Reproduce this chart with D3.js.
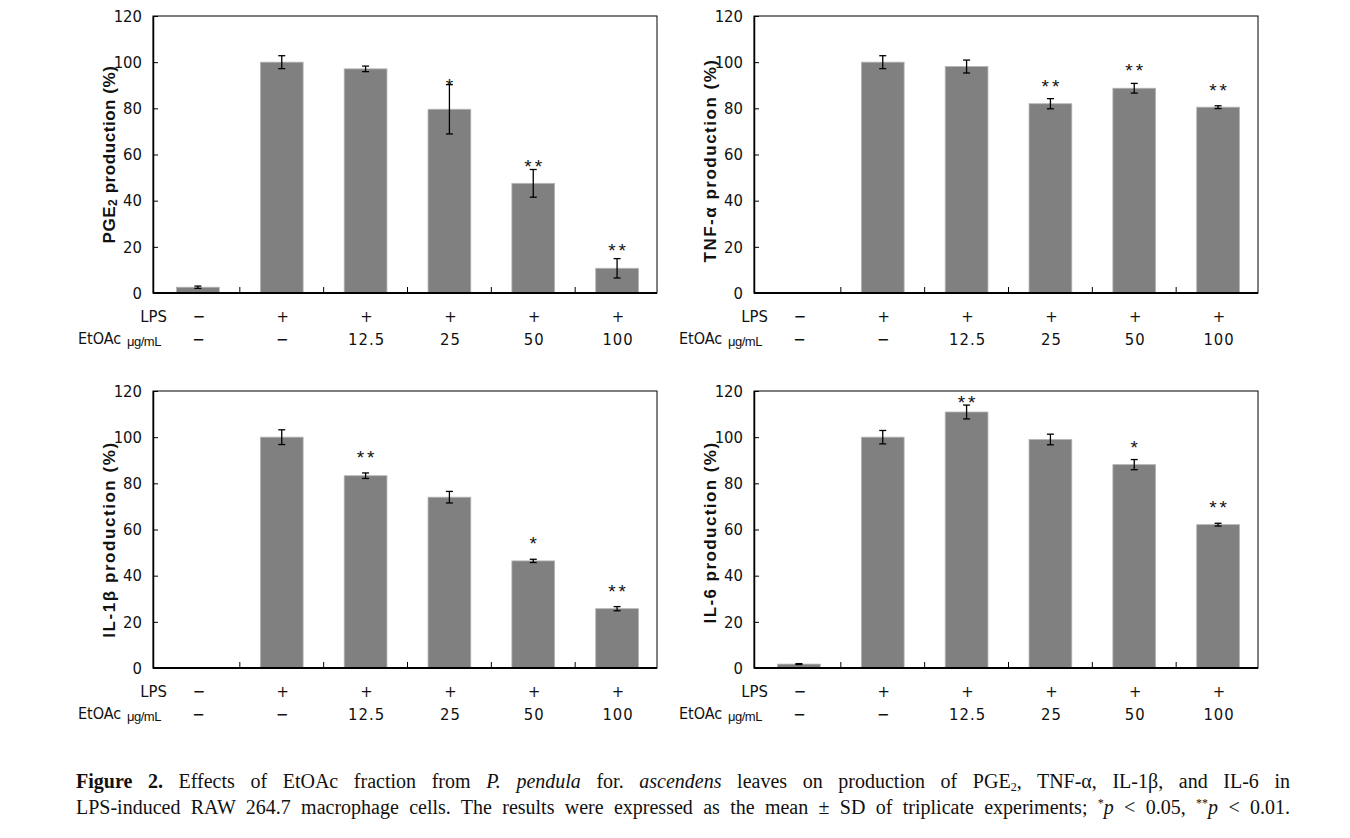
<!DOCTYPE html>
<html>
<head>
<meta charset="utf-8">
<script src="https://cdn.jsdelivr.net/npm/d3@7"></script>
<style>
  html, body { margin: 0; padding: 0; background: #fff; }
  #wrap { position: relative; width: 1350px; height: 838px; overflow: hidden; }
  svg { position: absolute; left: 0; top: 0; }
  .cap { position: absolute; left: 76px; width: 1214px; font-family: "Liberation Serif", "Times New Roman", serif;
         font-size: 20px; line-height: 23px; color: #111; text-align: justify; text-align-last: justify; }
  .cap sup { font-size: 12px; vertical-align: 7px; line-height: 0; }
  .cap sub { font-size: 12px; vertical-align: -3px; line-height: 0; }
</style>
</head>
<body>
<div id="wrap"></div>
<script>
// ---------------- data ----------------
const lpsLabels   = ["\u2212", "+", "+", "+", "+", "+"];
const etoacLabels = ["\u2212", "\u2212", "12.5", "25", "50", "100"];
const yTicks = [0, 20, 40, 60, 80, 100, 120];

const pgeValues   = [2.5, 100, 97.1, 79.6, 47.5, 10.7];
const pgeErrors   = [0.5, 2.8, 1.2, 10.7, 6.0, 4.2];
const pgeSig      = ["", "", "", "*", "**", "**"];
const pgeSigLevel = [null, null, null, 91.6, 56.3, 19.8];

const tnfValues   = [0, 100, 98.1, 82.0, 88.7, 80.5];
const tnfErrors   = [0, 2.8, 2.8, 2.2, 2.1, 0.6];
const tnfSig      = ["", "", "", "**", "**", "**"];
const tnfSigLevel = [null, null, null, 91.1, 97.8, 89.1];

const il1bValues   = [0, 100, 83.3, 74.0, 46.4, 25.7];
const il1bErrors   = [0, 3.2, 1.2, 2.5, 0.7, 0.9];
const il1bSig      = ["", "", "**", "", "*", "**"];
const il1bSigLevel = [null, null, 92.5, null, 55.6, 34.8];

const il6Values   = [1.7, 100, 110.9, 99.0, 88.1, 62.1];
const il6Errors   = [0.2, 2.9, 3.0, 2.3, 2.2, 0.6];
const il6Sig      = ["", "", "**", "", "*", "**"];
const il6SigLevel = [null, null, 116.5, null, 97.2, 71.1];

// ---------------- layout ----------------
const W = 1350, H = 838;
const PW = 504, PH = 277;
const panels = [
  { label: ["PGE", "2", " production (%)"], values: pgeValues, errors: pgeErrors, sig: pgeSig, sigLevel: pgeSigLevel,
    x: 153, y: 16, labelDy: 0, labelLen: 178 },
  { label: ["TNF-\u03B1 production (%)"], values: tnfValues, errors: tnfErrors, sig: tnfSig, sigLevel: tnfSigLevel,
    x: 754, y: 16, labelDy: 6, labelLen: 204 },
  { label: ["IL-1\u03B2  production (%)"], values: il1bValues, errors: il1bErrors, sig: il1bSig, sigLevel: il1bSigLevel,
    x: 153, y: 391, labelDy: 10, labelLen: 198 },
  { label: ["IL-6 production (%)"], values: il6Values, errors: il6Errors, sig: il6Sig, sigLevel: il6SigLevel,
    x: 754, y: 391, labelDy: 3, labelLen: 182 }
];

const narrow = "'Liberation Sans Narrow', 'Arial Narrow', 'DejaVu Sans Condensed', sans-serif";
const sans = "'Liberation Sans', Arial, sans-serif";

const svg = d3.select("#wrap").append("svg").attr("width", W).attr("height", H);

const x = d3.scaleBand().domain(d3.range(6)).range([3, PW + 2]).paddingInner(0.49).paddingOuter(0.245);
const y = d3.scaleLinear().domain([0, 120]).range([PH, 0]);

panels.forEach(p => {
  const g = svg.append("g").attr("transform", `translate(${p.x},${p.y})`);

  // bars
  g.selectAll("rect.bar").data(p.values).join("rect")
    .attr("class", "bar")
    .attr("x", (d, i) => x(i))
    .attr("width", x.bandwidth())
    .attr("y", d => y(d))
    .attr("height", d => y(0) - y(d))
    .attr("fill", "#808080")
    .attr("stroke", "#b4b4b4")
    .attr("stroke-width", 0.8);

  // error bars
  p.values.forEach((d, i) => {
    if (d <= 0) return;
    const e = p.errors[i];
    const s = g.append("g").attr("transform", `translate(${x(i) + x.bandwidth() / 2},0)`);
    s.append("line").attr("x1", 0).attr("x2", 0).attr("y1", y(d + e)).attr("y2", y(d - e))
      .attr("stroke", "#000").attr("stroke-width", 1.3);
    [d + e, d - e].forEach(v => s.append("line").attr("x1", -3.5).attr("x2", 3.5)
      .attr("y1", y(v)).attr("y2", y(v)).attr("stroke", "#000").attr("stroke-width", 1.3));
  });

  // significance stars
  p.sig.forEach((s, i) => {
    if (!s) return;
    g.append("text")
      .attr("x", x(i) + x.bandwidth() / 2 + (s.length > 1 ? 1.5 : 0))
      .attr("y", y(p.sigLevel[i]) + 10)
      .attr("text-anchor", "middle")
      .attr("font-family", sans)
      .attr("font-size", 19)
      .attr("letter-spacing", s.length > 1 ? 3 : 0)
      .attr("fill", "#111")
      .text(s);
  });

  // frame
  g.append("rect").attr("x", 0).attr("y", 0).attr("width", PW).attr("height", PH)
    .attr("fill", "none").attr("stroke", "#000").attr("stroke-width", 1);

  // y axis
  const ya = g.append("g").call(d3.axisLeft(y).tickValues(yTicks).tickSize(-5).tickSizeOuter(0).tickPadding(11));
  ya.select(".domain").attr("stroke-width", 1.5);
  ya.selectAll("text").attr("font-family", narrow).attr("font-size", 16.5).attr("fill", "#111");

  // x axis (baseline + inner boundary ticks)
  g.append("line").attr("x1", 0).attr("x2", PW).attr("y1", PH).attr("y2", PH)
    .attr("stroke", "#000").attr("stroke-width", 1.8);
  d3.range(1, 6).forEach(i => {
    const bx = x(i) - x.step() * x.paddingInner() / 2;
    g.append("line").attr("x1", bx).attr("x2", bx).attr("y1", PH).attr("y2", PH - 6)
      .attr("stroke", "#000").attr("stroke-width", 1);
  });

  // treatment rows
  const rowText = () => g.append("text").attr("font-family", narrow).attr("font-size", 16.5)
    .attr("fill", "#111").attr("dominant-baseline", "central");
  lpsLabels.forEach((t, i) => {
    rowText().attr("x", x(i) + x.bandwidth() / 2 + 1).attr("y", PH + 23)
      .attr("text-anchor", "middle").text(t);
  });
  etoacLabels.forEach((t, i) => {
    rowText().attr("x", x(i) + x.bandwidth() / 2 + 1).attr("y", PH + 46)
      .attr("text-anchor", "middle").attr("letter-spacing", 1).text(t);
  });
  rowText().attr("x", 14).attr("y", PH + 23).attr("text-anchor", "end").text("LPS");
  rowText().attr("x", -75).attr("y", PH + 45).attr("font-size", 16).text("EtOAc");
  g.append("text").attr("x", -26).attr("y", PH + 48)
    .attr("font-family", sans).attr("font-size", 13).attr("fill", "#111")
    .attr("dominant-baseline", "central").attr("letter-spacing", -0.5).text("\u03BCg/mL");

  // y label
  const yl = g.append("text")
    .attr("transform", `translate(-44,${PH / 2 + p.labelDy}) rotate(-90)`)
    .attr("text-anchor", "middle")
    .attr("dominant-baseline", "central")
    .attr("font-family", sans)
    .attr("font-weight", "bold").attr("font-size", 17)
    .attr("fill", "#111");
  if (p.label.length === 3) {
    yl.append("tspan").text(p.label[0]);
    yl.append("tspan").attr("font-size", 12).attr("dy", 4).text(p.label[1]);
    yl.append("tspan").attr("dy", -4).text(p.label[2]);
  } else {
    yl.text(p.label[0]);
  }
  const baseLen = yl.node().getBBox().width;
  const nChars = p.label.join("").length;
  yl.attr("letter-spacing", Math.max(0, (p.labelLen - baseLen) / nChars));
});

// caption
const wrap = d3.select("#wrap");
wrap.append("div").attr("class", "cap").style("top", "770px")
  .html('<b>Figure 2.</b> Effects of EtOAc fraction from <i>P. pendula</i> for. <i>ascendens</i> leaves on production of PGE<sub>2</sub>, TNF-\u03B1, IL-1\u03B2, and IL-6 in');
wrap.append("div").attr("class", "cap").style("top", "796px")
  .html('LPS-induced RAW 264.7 macrophage cells. The results were expressed as the mean \u00B1 SD of triplicate experiments; <sup>*</sup><i>p</i> &lt; 0.05, <sup>**</sup><i>p</i> &lt; 0.01.');
</script>
</body>
</html>
